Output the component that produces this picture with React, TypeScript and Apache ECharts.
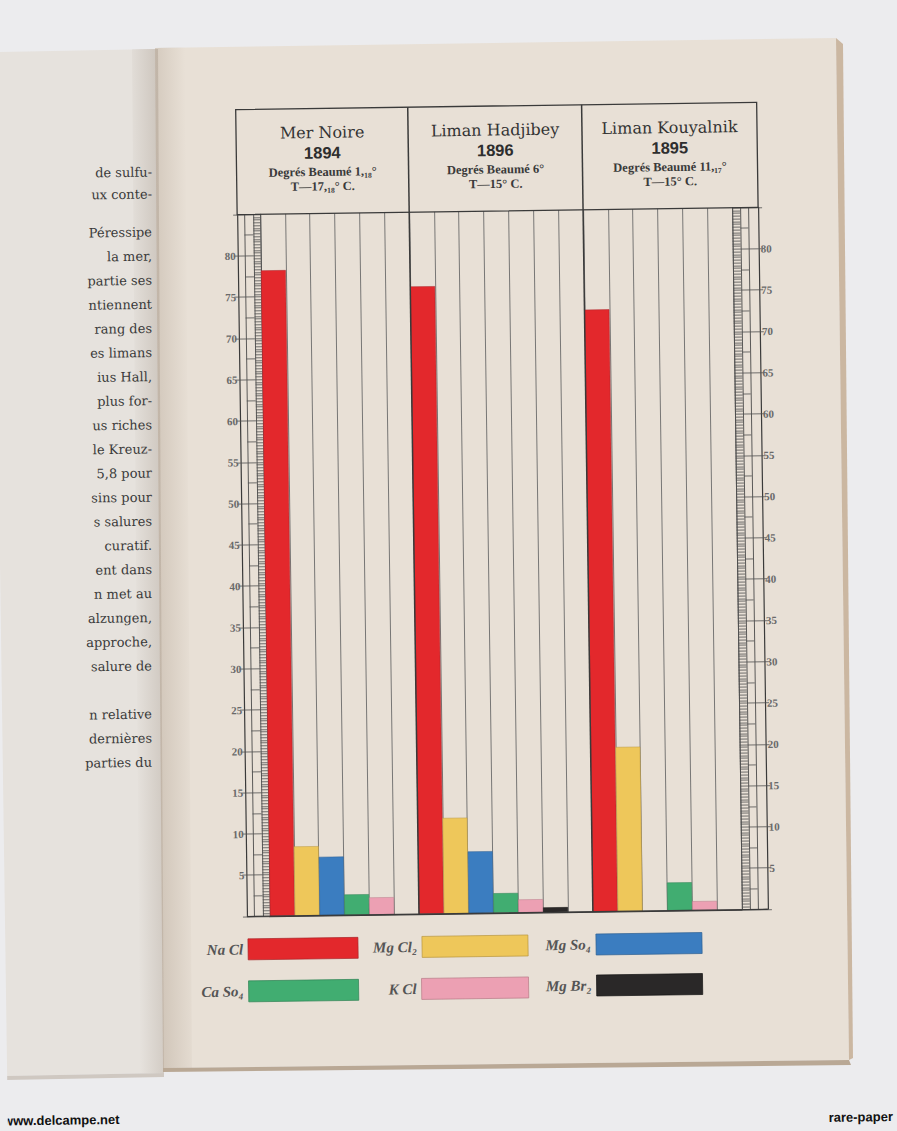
import React, { useEffect, useRef } from "react";
import * as echarts from "echarts";

// ---------------- data ----------------
const groups = ["Mer Noire", "Liman Hadjibey", "Liman Kouyalnik"];
const years = ["1894", "1896", "1895"];
const beaume = ["Degrés Beaumé 1,₁₈°", "Degrés Beaumé 6°", "Degrés Beaumé 11,₁₇°"];
const temperatures = ["T—17,₁₈° C.", "T—15° C.", "T—15° C."];
const columnsPerGroup = [6, 7, 6];
const substances = ["Na Cl", "Mg Cl₂", "Mg So₄", "Ca So₄", "K Cl", "Mg Br₂"];
const naCl = [78.2, 76.0, 72.9];
const mgCl2 = [8.4, 11.6, 19.9];
const mgSo4 = [7.1, 7.5, 0];
const caSo4 = [2.5, 2.4, 3.4];
const kCl = [2.1, 1.6, 1.1];
const mgBr2 = [0, 0.6, 0];
const yMin = 0;
const yMax = 85;
const labelMax = 80;

const leftPageLines = [
  "de sulfu-", "ux conte-", "Péressipe", "la mer,", "partie ses", "ntiennent",
  "rang des", "es limans", "ius Hall,", "plus for-", "us riches", "le Kreuz-",
  "5,8 pour", "sins pour", "s salures", "curatif.", "ent dans", "n met au",
  "alzungen,", "approche,", "salure de", "n relative", "dernières", "parties du",
];

// ---------------- styles / layout ----------------
const colors = ["#e3282c", "#eec75a", "#3b7dc0", "#41ad71", "#eca0b3", "#2a2828"];
const edges = ["#a9252a", "#b8963e", "#2d5f92", "#2f8254", "#b87a88", "#111"];
const W = 897;
const H = 1131;
const ANGLE = -0.8; // photo tilt, degrees
const CX = 497;
const CY = 560;
const GL = 265; // grid left
const GR = 737; // grid right
const GT = 211; // grid top
const GB = 913; // grid bottom (zero line)
const HEAD_TOP = 106;
const FRAME_L = 242;
const FRAME_R = 763;
const INK = "#3a3a3a";

function toDesign(x: number, y: number): [number, number] {
  const a = (-ANGLE * Math.PI) / 180;
  const dx = x - CX;
  const dy = y - CY;
  return [CX + dx * Math.cos(a) - dy * Math.sin(a), CY + dx * Math.sin(a) + dy * Math.cos(a)];
}

const groupStart = columnsPerGroup.map((_, i) => columnsPerGroup.slice(0, i).reduce((a, b) => a + b, 0));
const slots: string[] = [];
groups.forEach((g, gi) => {
  for (let c = 0; c < columnsPerGroup[gi]; c++) slots.push(`${g} ${c + 1}`);
});
const seriesValues = [naCl, mgCl2, mgSo4, caSo4, kCl, mgBr2];

function buildOption() {
  const slotW = (GR - GL) / slots.length;
  const boundaries = [FRAME_L, ...groupStart.slice(1).map((s) => GL + s * slotW), FRAME_R];

  const series = substances.map((name, si) => {
    const data: (number | null)[] = slots.map(() => null);
    groups.forEach((_, gi) => {
      const v = seriesValues[si][gi];
      if (v > 0) data[groupStart[gi] + si] = v;
    });
    return {
      name,
      type: "bar",
      stack: "col",
      barWidth: "100%",
      data,
      itemStyle: { color: colors[si], borderColor: edges[si], borderWidth: 0.5 },
      emphasis: { disabled: true },
      z: 3,
    };
  });

  const common = {
    type: "value",
    min: yMin,
    max: yMax,
    splitLine: { show: false },
    axisLine: { show: true, lineStyle: { color: "#4a4a4a", width: 0.9 } },
    axisLabel: { show: false },
  };
  const tickStyle = { color: "#505050", width: 0.8 };
  const labelStyle = {
    show: true,
    margin: 2,
    color: "#6a6a6a",
    fontFamily: "Liberation Serif",
    fontWeight: "bold",
    fontSize: 11,
    formatter: (v: number) => (v > 0 && v <= labelMax ? String(v) : ""),
  };
  const yAxis = [
    { ...common, position: "left", offset: 0, interval: 1,
      axisTick: { show: true, length: 7, lineStyle: tickStyle },
      minorTick: { show: true, splitNumber: 3, length: 7, lineStyle: tickStyle } },
    { ...common, position: "left", offset: 7, interval: 2.5, axisTick: { show: true, length: 9, lineStyle: tickStyle } },
    { ...common, position: "left", offset: 16, interval: 5, axisTick: { show: true, length: 7, lineStyle: tickStyle } },
    { ...common, position: "left", offset: 23, interval: 5,
      axisLine: { show: true, lineStyle: { color: INK, width: 1.2 } },
      axisTick: { show: true, length: 4, lineStyle: tickStyle }, axisLabel: labelStyle },
    { ...common, position: "right", offset: 0, interval: 1,
      axisTick: { show: true, length: 8, lineStyle: tickStyle },
      minorTick: { show: true, splitNumber: 3, length: 8, lineStyle: tickStyle } },
    { ...common, position: "right", offset: 8, interval: 2.5, axisTick: { show: true, length: 8, lineStyle: tickStyle } },
    { ...common, position: "right", offset: 16, interval: 5, axisTick: { show: true, length: 10, lineStyle: tickStyle } },
    { ...common, position: "right", offset: 26, interval: 5,
      axisLine: { show: true, lineStyle: { color: INK, width: 1.2 } },
      axisTick: { show: true, length: 4, lineStyle: tickStyle }, axisLabel: { ...labelStyle, margin: 2 } },
  ];

  // legends: one per substance, laid out as in the printed key
  const legendRight = [544, 374, 200, 544, 374, 200];
  const legendTop = [935, 935, 935, 977, 977, 976];
  const legendW = [110, 106, 106, 110, 107, 106];
  const legend = substances.map((name, i) => ({
    data: [name],
    right: legendRight[i],
    top: legendTop[i],
    padding: 0,
    align: "right",
    icon: "rect",
    itemWidth: legendW[i],
    itemHeight: 21,
    selectedMode: false,
    itemStyle: { borderColor: edges[i], borderWidth: 0.7 },
    textStyle: {
      fontFamily: "Liberation Serif",
      fontStyle: "italic",
      fontWeight: "bold",
      fontSize: 15,
      color: "#555",
      padding: [7, 0, 0, 0],
    },
  }));

  // page background (photographed book)
  const poly = (pts: number[][], fill: any, z = -20) => ({
    type: "polygon",
    z,
    silent: true,
    shape: { points: pts.map(([x, y]) => toDesign(x, y)) },
    style: { fill },
  });
  const hGrad = (a: string, b: string) =>
    new echarts.graphic.LinearGradient(0, 0, 1, 0, [
      { offset: 0, color: a },
      { offset: 1, color: b },
    ]);
  const background: any[] = [
    poly([[0, 52], [158, 49], [164, 1073], [0, 1076]], "#e6e2dd"),
    poly([[132, 49], [158, 49], [164, 1073], [140, 1073]], hGrad("rgba(150,135,120,0)", "rgba(150,135,120,0.32)"), -19),
    poly([[0, 1076], [164, 1073], [164, 1077], [0, 1080]], "#cfc8c1", -19),
    poly([[155, 48], [836, 38], [849, 1060], [163, 1068]], "#e8e0d6"),
    poly([[155, 48], [185, 47], [192, 1068], [163, 1068]], hGrad("rgba(140,120,100,0.25)", "rgba(140,120,100,0)"), -19),
    poly([[836, 38], [843, 44], [853, 1058], [849, 1060]], "#cbb7a1", -19),
    poly([[163, 1068], [849, 1060], [851, 1065], [163, 1072]], "#b9a895", -19),
  ];

  const leftText = leftPageLines.map((t, i) => {
    const y = i < 2 ? 172 + i * 22 : 232 + (i - 2) * 24.1 + (i >= 21 ? 24.1 : 0);
    const [x1, y1] = toDesign(152, y);
    return {
      type: "text",
      z: -5,
      silent: true,
      x: x1,
      y: y1,
      style: {
        text: t,
        fontFamily: "DejaVu Serif",
        fontSize: 13,
        fill: "#3a3a3a",
        textAlign: "right",
        textVerticalAlign: "middle",
        align: "right",
        verticalAlign: "middle",
      },
    };
  });

  const wm = (t: string, sx: number, sy: number, anchor: string) => {
    const [x, y] = toDesign(sx, sy);
    return {
      type: "text",
      z: 20,
      silent: true,
      x,
      y: Math.min(y, 1122),
      style: {
        text: t,
        fontFamily: "Liberation Sans",
        fontWeight: "bold",
        fontSize: 13,
        fill: "#111",
        textAlign: anchor,
        textVerticalAlign: "middle",
        align: anchor,
        verticalAlign: "middle",
      },
    };
  };

  const txt = (t: string, x: number, y: number, size: number, family: string, weight = "normal", fill = "#333") => ({
    type: "text",
    z: 20,
    silent: true,
    x,
    y,
    style: {
      text: t,
      fontFamily: family,
      fontSize: size,
      fontWeight: weight,
      fill,
      textAlign: "center",
      textVerticalAlign: "middle",
      align: "center",
      verticalAlign: "middle",
    },
  });

  const header: any[] = [
    {
      type: "rect",
      z: 15,
      silent: true,
      shape: { x: FRAME_L, y: HEAD_TOP, width: FRAME_R - FRAME_L, height: GT - HEAD_TOP },
      style: { fill: "none", stroke: INK, lineWidth: 1.3 },
    },
    {
      type: "line",
      z: 15,
      silent: true,
      shape: { x1: FRAME_L, y1: GB, x2: FRAME_R, y2: GB },
      style: { stroke: INK, lineWidth: 1.3 },
    },
    ...boundaries.slice(1, -1).map((bx) => ({
      type: "line",
      z: 15,
      silent: true,
      shape: { x1: bx, y1: HEAD_TOP, x2: bx, y2: GB },
      style: { stroke: INK, lineWidth: 1.5 },
    })),
  ];
  groups.forEach((g, gi) => {
    const cx = (boundaries[gi] + boundaries[gi + 1]) / 2;
    header.push(txt(g, cx, 130, 16, "DejaVu Serif", "normal", "#333"));
    header.push(txt(years[gi], cx, 150, 16.5, "Liberation Sans", "bold", "#2e2e2e"));
    header.push(txt(beaume[gi], cx, 169.5, 12.5, "Liberation Serif", "bold", "#3a3a3a"));
    header.push(txt(temperatures[gi], cx, 184, 12.5, "Liberation Serif", "bold", "#3a3a3a"));
  });

  return {
    animation: false,
    backgroundColor: "transparent",
    grid: { left: GL, right: W - GR, top: GT, bottom: H - GB, containLabel: false },
    xAxis: {
      type: "category",
      data: slots,
      boundaryGap: true,
      axisLine: { show: true, lineStyle: { color: INK, width: 1.3 } },
      axisTick: { show: false },
      axisLabel: { show: false },
      splitLine: { show: true, interval: 0, lineStyle: { color: "#6a6a6a", width: 0.9 } },
    },
    yAxis,
    legend,
    series,
    graphic: [
      { type: "group", children: [...background, ...leftText] },
      { type: "group", children: header },
      {
        type: "group",
        children: [wm("www.delcampe.net", 3, 1121, "left"), wm("rare-paper", 893, 1121, "right")],
      },
    ],
  };
}

export default function App() {
  const ref = useRef<HTMLDivElement>(null);
  useEffect(() => {
    if (!ref.current) return;
    const chart = echarts.init(ref.current, null, { renderer: "svg" });
    chart.setOption(buildOption() as any);
    return () => chart.dispose();
  }, []);
  return (
    <div
      style={{
        position: "fixed",
        left: 0,
        top: 0,
        width: W,
        height: H,
        overflow: "hidden",
        background: "#ececee",
      }}
    >
      <div
        ref={ref}
        style={{
          position: "absolute",
          left: 0,
          top: 0,
          width: W,
          height: H,
          transform: `rotate(${ANGLE}deg)`,
          transformOrigin: `${CX}px ${CY}px`,
        }}
      />
    </div>
  );
}
